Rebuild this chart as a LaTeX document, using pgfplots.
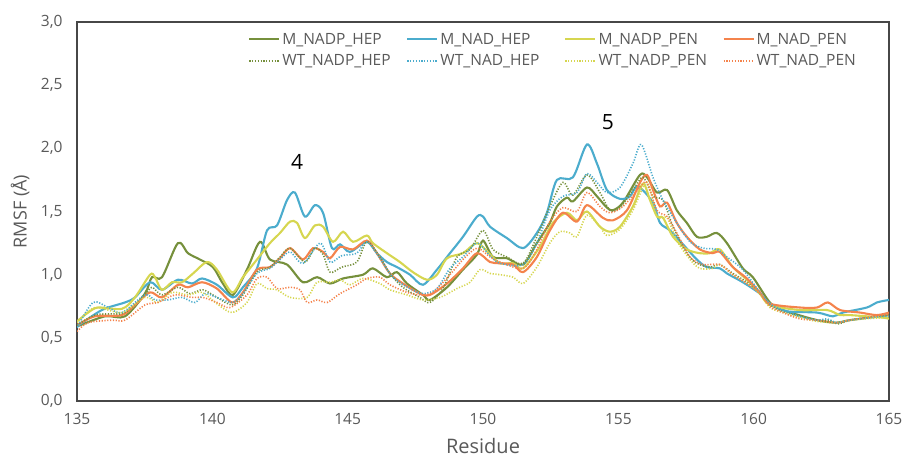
\documentclass[border=0pt]{standalone}
\usepackage{fontspec}
\setmainfont{Open Sans}
\usepackage{pgfplots}
\pgfplotsset{compat=1.18}

\definecolor{cOlive}{HTML}{76903C}
\definecolor{cBlue}{HTML}{4BACCD}
\definecolor{cYellow}{HTML}{D6D650}
\definecolor{cOrange}{HTML}{F4834C}
\definecolor{cText}{HTML}{595959}

\begin{document}
\begin{tikzpicture}
\useasboundingbox (-77bp,-58bp) rectangle (827bp,401bp);
\begin{axis}[
  at={(0,0)}, anchor=south west,
  scale only axis, width=812bp, height=379bp,
  xmin=135, xmax=165, ymin=0, ymax=3,
  xtick={135,140,145,150,155,160,165},
  ytick={0,0.5,1,1.5,2,2.5,3},
  major tick length=0pt,
  axis line style={draw=black!72, line width=1.2bp},
  /pgf/number format/assume math mode=true,
  yticklabel={\pgfmathprintnumber[fixed,fixed zerofill,precision=1,use comma]{\tick}},
  xticklabel={\pgfmathprintnumber[fixed,precision=0]{\tick}},
  ticklabel style={font=\fontsize{15.5bp}{17bp}\selectfont, text=cText},
  xticklabel style={yshift=-9bp},
  yticklabel style={xshift=-11bp},
  xlabel={Residue}, ylabel={RMSF (Å)},
  xlabel style={font=\fontsize{20bp}{23bp}\selectfont, text=cText,
    at={(axis description cs:0.5,-0.118)}, anchor=center},
  ylabel style={font=\fontsize{18bp}{21bp}\selectfont, text=cText,
    at={(axis description cs:-0.070,0.5)}, anchor=center},
  legend columns=4,
  legend cell align=left,
  legend style={at={(axis description cs:0.207,0.982)}, anchor=north west,
    draw=none, fill=none, font=\fontsize{15.5bp}{17bp}\selectfont, text=cText,
    row sep=5bp,
    /tikz/every even column/.append style={text width=122bp, align=left, column sep=0bp}},
  legend image code/.code={\draw[#1] (0bp,0bp) -- (30bp,0bp);},
  every axis plot/.append style={smooth, tension=0.5},
  solidline/.style={line width=2.1bp},
  dotline/.style={line width=1.6bp, dash pattern=on 1.2bp off 1.6bp},
]

\addplot [cOlive, solidline] coordinates {
(135.00,0.59) (136.03,0.67) (136.77,0.67) (137.51,0.85) (137.77,0.98) (138.14,0.98)
(138.73,1.25) (139.10,1.17) (139.54,1.12) (140.02,1.06) (140.39,0.93) (140.76,0.84)
(141.28,1.04) (141.76,1.26) (142.13,1.12) (142.76,1.08) (143.35,0.94) (143.87,0.98)
(144.35,0.93) (144.83,0.97) (145.57,1.00) (145.93,1.05) (146.45,0.98) (146.82,1.02)
(147.19,0.93) (147.78,0.84) (148.04,0.80) (148.67,0.90) (149.26,1.04) (149.78,1.16)
(150.00,1.27) (150.37,1.14) (150.88,1.13) (151.48,1.08) (151.99,1.25) (152.47,1.41)
(152.73,1.54) (153.10,1.61) (153.32,1.58) (153.84,1.69) (154.21,1.62) (154.58,1.53)
(154.80,1.51) (155.17,1.57) (155.80,1.79) (156.06,1.77) (156.43,1.65) (156.80,1.67)
(157.16,1.51) (157.53,1.41) (157.90,1.30) (158.27,1.30) (158.64,1.33) (159.01,1.25)
(159.60,1.05) (159.97,0.98) (160.60,0.78) (161.08,0.72) (162.34,0.64) (163.07,0.62)
(163.55,0.64) (165.00,0.68)
};
\addlegendentry{M\_NADP\_HEP}

\addplot [cBlue, solidline] coordinates {
(135.00,0.59) (135.92,0.72) (136.77,0.78) (137.14,0.82) (137.70,0.94) (138.14,0.88)
(138.73,0.96) (139.25,0.93) (139.62,0.97) (140.17,0.92) (140.76,0.82) (141.13,0.90)
(141.65,1.05) (142.02,1.35) (142.39,1.39) (142.76,1.59) (143.05,1.65) (143.42,1.46)
(143.79,1.55) (144.09,1.49) (144.42,1.21) (144.72,1.24) (145.08,1.18) (145.71,1.26)
(146.08,1.17) (146.45,1.10) (146.82,1.06) (147.30,1.00) (147.78,0.92) (148.30,1.04)
(148.78,1.17) (149.26,1.30) (149.78,1.46) (150.00,1.46) (150.26,1.38) (150.88,1.29)
(151.48,1.21) (151.99,1.33) (152.36,1.49) (152.73,1.75) (153.32,1.77) (153.84,2.03)
(154.21,1.88) (154.58,1.67) (155.06,1.60) (155.43,1.62) (155.72,1.70) (156.28,1.57)
(156.54,1.41) (156.91,1.35) (157.39,1.24) (157.90,1.12) (158.27,1.06) (158.75,1.05)
(159.01,1.01) (159.60,0.94) (160.23,0.85) (160.60,0.77) (161.23,0.71) (162.34,0.70)
(162.93,0.67) (163.30,0.70) (164.18,0.74) (164.55,0.78) (165.00,0.80)
};
\addlegendentry{M\_NAD\_HEP}

\addplot [cYellow, solidline] coordinates {
(135.00,0.63) (135.41,0.70) (135.78,0.74) (136.66,0.73) (137.14,0.82) (137.70,1.00)
(137.88,0.98) (138.14,0.88) (138.51,0.94) (138.88,0.94) (139.29,1.01) (139.80,1.10)
(140.17,1.04) (140.73,0.86) (141.13,0.98) (141.65,1.12) (142.13,1.25) (142.50,1.33)
(142.87,1.42) (143.13,1.41) (143.42,1.29) (143.79,1.39) (144.09,1.38) (144.46,1.26)
(144.83,1.34) (145.20,1.26) (145.71,1.31) (145.93,1.25) (146.45,1.17) (146.93,1.10)
(147.41,1.02) (147.93,0.96) (148.30,1.00) (148.67,1.13) (149.26,1.17) (149.78,1.25)
(150.26,1.16) (150.63,1.09) (151.11,1.09) (151.48,1.05) (152.10,1.22) (152.58,1.41)
(153.10,1.49) (153.47,1.43) (153.84,1.50) (154.32,1.38) (154.69,1.34) (155.06,1.38)
(155.54,1.54) (155.91,1.72) (156.17,1.59) (156.43,1.46) (156.65,1.45) (157.02,1.30)
(157.53,1.20) (158.01,1.17) (158.38,1.17) (158.75,1.20) (159.23,1.06) (159.75,0.96)
(160.23,0.85) (160.60,0.76) (161.71,0.72) (162.71,0.72) (163.19,0.68) (163.55,0.68)
(164.77,0.66) (165.00,0.65)
};
\addlegendentry{M\_NADP\_PEN}

\addplot [cOrange, solidline] coordinates {
(135.00,0.60) (135.66,0.67) (136.66,0.68) (137.14,0.76) (137.70,0.86) (138.14,0.82)
(138.73,0.92) (139.10,0.90) (139.62,0.94) (140.17,0.89) (140.73,0.78) (141.13,0.86)
(141.65,1.04) (142.13,1.06) (142.50,1.13) (142.87,1.21) (143.35,1.12) (143.72,1.21)
(144.09,1.18) (144.35,1.13) (144.72,1.22) (145.20,1.20) (145.71,1.27) (146.08,1.17)
(146.56,1.01) (147.04,0.93) (147.67,0.85) (148.04,0.84) (148.67,0.93) (149.26,1.05)
(149.78,1.17) (150.26,1.10) (150.63,1.09) (151.11,1.08) (151.48,1.02) (151.99,1.14)
(152.47,1.35) (152.95,1.49) (153.47,1.42) (153.84,1.55) (154.43,1.45) (154.80,1.43)
(155.32,1.51) (155.80,1.73) (156.06,1.79) (156.28,1.67) (156.54,1.54) (156.80,1.57)
(157.16,1.41) (157.53,1.30) (158.01,1.20) (158.49,1.17) (158.75,1.18) (159.23,1.06)
(159.75,0.97) (160.23,0.86) (160.60,0.77) (161.71,0.74) (162.34,0.74) (162.74,0.78)
(163.19,0.72) (163.93,0.70) (164.55,0.68) (165.00,0.70)
};
\addlegendentry{M\_NAD\_PEN}

\addplot [cOlive, dotline] coordinates {
(135.00,0.60) (135.66,0.68) (136.29,0.69) (136.77,0.70) (137.51,0.84) (137.77,0.90)
(138.14,0.84) (138.73,0.90) (139.17,0.85) (139.65,0.88) (140.17,0.82) (140.73,0.76)
(141.13,0.84) (141.65,1.02) (142.13,1.06) (142.50,1.14) (142.87,1.21) (143.42,1.10)
(143.79,1.21) (144.09,1.16) (144.35,1.02) (144.78,1.06) (145.34,1.10) (145.71,1.26)
(146.19,1.14) (146.56,1.01) (147.04,0.90) (147.67,0.82) (148.04,0.78) (148.52,0.89)
(149.04,1.14) (149.52,1.20) (150.00,1.35) (150.37,1.20) (150.88,1.14) (151.48,1.09)
(151.99,1.30) (152.47,1.54) (152.95,1.73) (153.32,1.63) (153.84,1.79) (154.32,1.65)
(154.69,1.51) (155.06,1.53) (155.54,1.67) (155.91,1.77) (156.28,1.62) (156.65,1.59)
(157.02,1.38) (157.53,1.17) (157.90,1.09) (158.38,1.06) (158.75,1.08) (159.23,1.01)
(159.75,0.94) (160.23,0.85) (160.60,0.76) (161.08,0.71) (161.71,0.67) (162.34,0.64)
(162.82,0.64) (163.11,0.61) (163.55,0.64) (164.18,0.66) (165.00,0.68)
};
\addlegendentry{WT\_NADP\_HEP}

\addplot [cBlue, dotline] coordinates {
(135.00,0.58) (135.59,0.78) (136.15,0.74) (136.66,0.70) (137.51,0.84) (137.88,0.80)
(138.36,0.80) (138.88,0.82) (139.36,0.78) (139.73,0.85) (140.17,0.82) (140.73,0.78)
(141.13,0.85) (141.65,1.01) (142.13,1.05) (142.50,1.12) (142.87,1.18) (143.35,1.09)
(143.98,1.25) (144.35,1.10) (144.78,1.15) (145.34,1.17) (145.71,1.26) (146.19,1.13)
(146.67,0.98) (147.30,0.89) (147.78,0.85) (148.30,0.89) (148.78,1.05) (149.26,1.14)
(149.78,1.25) (150.26,1.15) (150.63,1.09) (151.48,1.08) (151.99,1.25) (152.47,1.51)
(152.95,1.62) (153.47,1.65) (153.84,1.80) (154.21,1.73) (154.58,1.65) (155.06,1.69)
(155.54,1.88) (155.85,2.03) (156.28,1.77) (156.65,1.59) (157.16,1.41) (157.65,1.26)
(158.13,1.21) (158.64,1.20) (159.01,1.14) (159.60,1.04) (160.23,0.86) (160.60,0.77)
(161.08,0.72) (161.71,0.67) (162.34,0.64) (162.71,0.65) (163.07,0.62) (163.55,0.64)
(164.77,0.67) (165.00,0.67)
};
\addlegendentry{WT\_NAD\_HEP}

\addplot [cYellow, dotline] coordinates {
(135.00,0.62) (135.66,0.74) (136.66,0.70) (137.51,0.82) (137.99,0.78) (138.51,0.86)
(139.10,0.84) (139.62,0.86) (140.17,0.77) (140.73,0.70) (141.28,0.78) (141.65,0.93)
(142.02,0.89) (142.39,0.88) (142.87,0.82) (143.50,0.82) (143.87,0.94) (144.35,0.94)
(144.72,0.96) (145.08,0.92) (145.57,0.97) (146.19,0.93) (146.56,0.88) (147.19,0.84)
(147.78,0.80) (148.41,0.82) (149.04,0.89) (149.52,0.94) (149.89,1.04) (150.26,1.01)
(150.63,1.00) (151.11,0.98) (151.48,0.93) (151.99,1.06) (152.47,1.25) (152.84,1.34)
(153.21,1.33) (153.47,1.30) (153.84,1.47) (154.32,1.38) (154.58,1.31) (155.06,1.36)
(155.54,1.51) (156.06,1.73) (156.43,1.46) (156.80,1.45) (157.16,1.27) (157.65,1.12)
(158.01,1.05) (158.49,1.05) (158.75,1.08) (159.23,1.00) (159.75,0.93) (160.23,0.85)
(160.60,0.74) (161.08,0.70) (161.71,0.66) (162.34,0.63) (163.07,0.62) (163.55,0.64)
(164.77,0.66) (165.00,0.66)
};
\addlegendentry{WT\_NADP\_PEN}

\addplot [cOrange, dotline] coordinates {
(135.00,0.55) (135.41,0.62) (136.29,0.64) (136.77,0.64) (137.51,0.76) (137.99,0.78)
(138.62,0.84) (139.25,0.82) (139.65,0.82) (140.17,0.78) (140.65,0.74) (141.28,0.84)
(141.65,0.97) (142.02,0.98) (142.39,0.89) (142.87,0.90) (143.24,0.88) (143.50,0.78)
(143.87,0.80) (144.24,0.78) (144.72,0.85) (145.34,0.92) (145.71,0.97) (146.19,0.98)
(146.56,0.92) (147.19,0.86) (147.67,0.84) (148.15,0.86) (148.78,1.00) (149.26,1.12)
(149.78,1.21) (150.26,1.14) (150.63,1.10) (151.48,1.05) (151.99,1.20) (152.47,1.42)
(152.95,1.53) (153.47,1.50) (153.84,1.65) (154.32,1.54) (154.69,1.49) (155.17,1.54)
(155.80,1.69) (156.06,1.73) (156.43,1.51) (156.80,1.46) (157.16,1.33) (157.65,1.14)
(158.13,1.08) (158.75,1.08) (159.23,1.00) (159.75,0.93) (160.23,0.85) (160.60,0.75)
(161.08,0.70) (161.71,0.65) (162.34,0.64) (163.07,0.62) (163.55,0.64) (164.77,0.68)
(165.00,0.68)
};
\addlegendentry{WT\_NAD\_PEN}

\node[font=\fontsize{21bp}{24bp}\selectfont, text=black] at (axis cs:143.13,1.89) {4};
\node[font=\fontsize{21bp}{24bp}\selectfont, text=black] at (axis cs:154.61,2.21) {5};
\end{axis}
\end{tikzpicture}
\end{document}
